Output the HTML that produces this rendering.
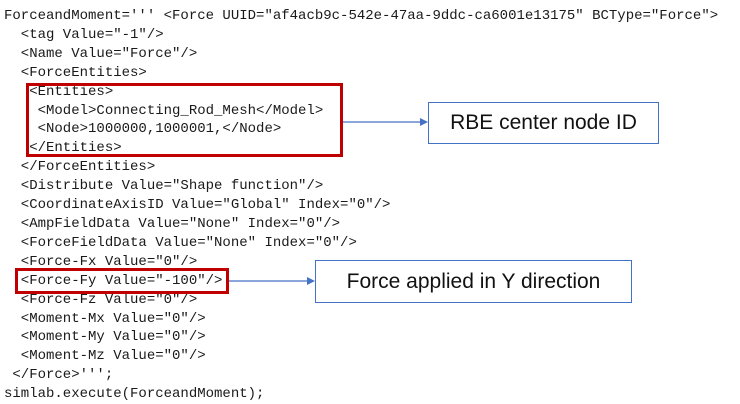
<!DOCTYPE html>
<html><head><style>
body{margin:0;width:740px;height:404px;background:#fff;position:relative;overflow:hidden}
pre{position:absolute;left:4px;top:7px;margin:0;font-family:"Liberation Mono",monospace;font-size:14px;line-height:18.9px;color:#1a1a1a}
.r{position:absolute;border:3px solid #c00000;box-sizing:border-box}
.b{position:absolute;border:1.5px solid #4472c4;box-sizing:border-box;font-family:"Liberation Sans",sans-serif;font-size:21px;color:#111;display:flex;align-items:center;justify-content:center;background:#fff}
</style></head><body>
<pre>ForceandMoment=''' &lt;Force UUID="af4acb9c-542e-47aa-9ddc-ca6001e13175" BCType="Force"&gt;
  &lt;tag Value="-1"/&gt;
  &lt;Name Value="Force"/&gt;
  &lt;ForceEntities&gt;
   &lt;Entities&gt;
    &lt;Model&gt;Connecting_Rod_Mesh&lt;/Model&gt;
    &lt;Node&gt;1000000,1000001,&lt;/Node&gt;
   &lt;/Entities&gt;
  &lt;/ForceEntities&gt;
  &lt;Distribute Value="Shape function"/&gt;
  &lt;CoordinateAxisID Value="Global" Index="0"/&gt;
  &lt;AmpFieldData Value="None" Index="0"/&gt;
  &lt;ForceFieldData Value="None" Index="0"/&gt;
  &lt;Force-Fx Value="0"/&gt;
  &lt;Force-Fy Value="-100"/&gt;
  &lt;Force-Fz Value="0"/&gt;
  &lt;Moment-Mx Value="0"/&gt;
  &lt;Moment-My Value="0"/&gt;
  &lt;Moment-Mz Value="0"/&gt;
 &lt;/Force&gt;''';
simlab.execute(ForceandMoment);</pre>
<div class="r" style="left:26px;top:83px;width:317px;height:74px"></div>
<div class="r" style="left:15px;top:268px;width:214px;height:26px"></div>
<svg style="position:absolute;left:0;top:0" width="740" height="404">
<line x1="343" y1="122" x2="422" y2="122" stroke="#4472c4" stroke-width="1.3"/>
<polygon points="420,118 428,122 420,126" fill="#4472c4"/>
<line x1="229" y1="281" x2="309" y2="281" stroke="#4472c4" stroke-width="1.3"/>
<polygon points="307,277 315,281 307,285" fill="#4472c4"/>
</svg>
<div class="b" style="left:428px;top:102px;width:231px;height:42px">RBE center node ID</div>
<div class="b" style="left:315px;top:260px;width:317px;height:43px">Force applied in Y direction</div>
</body></html>
